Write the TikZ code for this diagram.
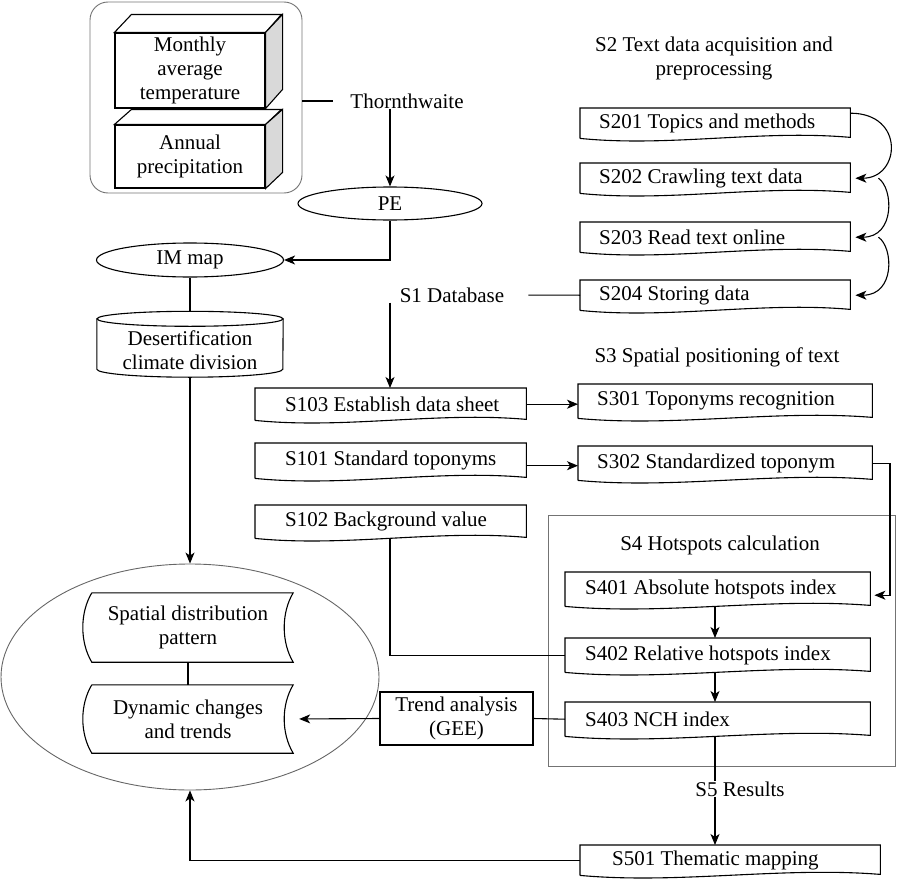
\documentclass[tikz,border=0pt]{standalone}
\usepackage{fontspec}
\setmainfont{Liberation Serif}
\usetikzlibrary{shapes.geometric,calc,arrows.meta}
\tikzset{
  ln/.style={line width=1.1pt},
  arr/.style={ln,-{Stealth[length=11pt,width=9pt,inset=3pt]}},
  plain/.style={inner sep=0pt},
  docshape/.style={rectangle,anchor=north west,inner sep=0pt},
  ell/.style={ellipse,draw,ln,inner sep=0pt},
  frame/.style={draw=black!55,line width=0.9pt},
}
\newcommand\docbox[7]{%
  \node[docshape,minimum width=#4pt,minimum height=#5pt] (#1) at (#2,#3) {};
  \node[plain,anchor=west] (#1t) at ($(#1.west)+(#6,0)$) {#7};
  \draw[ln] (#1.south west) -- (#1.north west) -- (#1.north east) -- ($(#1.south east)+(0,-1)$)
    .. controls ($(#1.south east)!0.33!(#1.south west)+(0,-9)$) and ($(#1.south east)!0.67!(#1.south west)+(0,9)$) .. (#1.south west);
}
\newcommand\tapebox[1]{%
  \draw[ln] ($(#1.north west)+(9,0)$) -- (#1.north east)
    .. controls +(-12,20) and +(-12,-20) .. (#1.south east)
    -- ($(#1.south west)+(9,0)$)
    .. controls +(-12,-20) and +(-12,20) .. ($(#1.north west)+(9,0)$);
}
\begin{document}
\begin{tikzpicture}[x=1pt,y=-1pt,every node/.style={font=\fontsize{21}{24}\selectfont}]
\useasboundingbox (0,0) rectangle (900,886);

% ---------- top-left group ----------
\node[frame,rounded corners=18pt,minimum width=212pt,minimum height=191pt,inner sep=0pt] (grp) at (196,97.5) {};
\node[draw,ln,fill=white,minimum width=150pt,minimum height=75pt,inner sep=0pt,align=center] (cub1) at (190,70.5) {Monthly\\average\\temperature};
\draw[ln,fill=white] (cub1.north west) -- ++(17,-18) -- ++(150,0) -- (cub1.north east) -- cycle;
\draw[ln,fill=black!15] (cub1.north east) -- ++(17,-18) -- ++(0,75) -- (cub1.south east) -- cycle;
\node[draw,ln,fill=white,minimum width=150pt,minimum height=63pt,inner sep=0pt,align=center] (cub2) at (190,156.5) {Annual\\precipitation};
\draw[ln,fill=white] (cub2.north west) -- ++(17,-15) -- ++(150,0) -- (cub2.north east) -- cycle;
\draw[ln,fill=black!15] (cub2.north east) -- ++(17,-15) -- ++(0,63) -- (cub2.south east) -- cycle;

\node[plain] (thw) at (407,101) {Thornthwaite};
\draw[ln,shorten >=17pt] (grp.east |- thw.west) -- (thw.west);
\node[ell,minimum width=184pt,minimum height=33pt] (pe) at (390,203.5) {PE};
\draw[arr] (thw.south -| pe.north) -- (pe.north);
\node[ell,minimum width=187pt,minimum height=34pt] (im) at (190,260) {IM map};
\draw[arr] (pe.south) |- (im.east);

% cylinder
\node[plain,minimum width=186pt,minimum height=50pt] (cyl) at (190,344) {};
\draw[ln] (cyl.north) ellipse [x radius=93, y radius=7.5];
\draw[ln] (cyl.north west) -- (cyl.south west) arc[start angle=180,end angle=0,x radius=93,y radius=8] -- (cyl.north east);
\node[plain,align=center] (cylt) at (190,350) {Desertification\\climate division};
\draw[ln] (im.south) -- ($(cyl.north)+(0,-7.5)$);

% big ellipse
\node[ellipse,draw=black!60,line width=0.9pt,minimum width=378pt,minimum height=226pt,inner sep=0pt] (big) at (190,677) {};
\draw[arr] ($(cyl.south)+(0,8)$) -- (big.north);
\node[plain,align=center,minimum width=210pt,minimum height=69pt] (spa) at (188,627.5) {Spatial distribution\\pattern};
\tapebox{spa}
\node[plain,align=center,minimum width=210pt,minimum height=68pt] (dyn) at (188,719) {Dynamic changes\\and trends};
\tapebox{dyn}
\draw[ln] (spa.south) -- (dyn.north);

\node[draw,ln,align=center,minimum width=153pt,minimum height=53pt,inner sep=0pt] (trend) at (456.5,718.5) {Trend analysis\\(GEE)};
\draw[arr,shorten >=6pt] (trend.west) -- (dyn.east);

% ---------- S2 ----------
\node[plain,align=center] (s2t) at (714,58.5) {S2 Text data acquisition and\\preprocessing};
\docbox{s201}{580}{108}{270}{30}{19}{S201 Topics and methods}
\docbox{s202}{580}{163}{270}{30}{19}{S202 Crawling text data}
\docbox{s203}{580}{222}{270}{30}{19}{S203 Read text online}
\docbox{s204}{580}{280}{270}{30}{19}{S204 Storing data}
\draw[arr,shorten >=5pt] ([yshift=10pt]s201.east) .. controls +(55,0) and +(50,0) .. (s202.east);
\draw[arr,shorten >=5pt] ($(s202.east)+(28,0)$) .. controls +(15,10) and +(45,0) .. (s203.east);
\draw[arr,shorten >=5pt] ($(s203.east)+(28,0)$) .. controls +(15,10) and +(45,0) .. (s204.east);

% ---------- S1 ----------
\node[plain] (s1t) at (452,295) {S1 Database};
\draw[ln,shorten <=24pt] (s1t.east) -- (s204.west);
\docbox{s103}{255}{388}{271}{32}{30}{S103 Establish data sheet}
\docbox{s101}{255}{443}{271}{35}{30}{S101 Standard toponyms}
\docbox{s102}{255}{505}{271}{33}{30}{S102 Background value}
\draw[arr] (s1t.south -| pe.south) -- (pe.south |- s103.north);

% ---------- S3 ----------
\node[plain] (s3t) at (717,357) {S3 Spatial positioning of text};
\docbox{s301}{578}{384}{294}{34}{19}{S301 Toponyms recognition}
\docbox{s302}{578}{446}{294}{34}{19}{S302 Standardized toponym}
\draw[arr] (s103.east) -- (s103.east -| s301.west);
\draw[arr] ([yshift=-5pt]s101.east) -- ([yshift=-5pt]s101.east -| s302.west);

% ---------- S4 ----------
\node[frame,minimum width=347pt,minimum height=251pt,anchor=north west,inner sep=0pt] (s4box) at (548,515) {};
\node[plain] (s4t) at (720,545) {S4 Hotspots calculation};
\docbox{s401}{565}{572}{305}{34}{20}{S401 Absolute hotspots index}
\docbox{s402}{565}{638}{305}{34}{20}{S402 Relative hotspots index}
\docbox{s403}{565}{702}{305}{34}{20}{S403 NCH index}
\coordinate (rx) at (890,0);
\coordinate (bx) at (715,0);
\draw[arr,shorten >=4pt] (s302.east) -- (s302.east -| rx) |- ([yshift=-6pt]s401.east);
\draw[arr] (s401.south -| bx) -- (bx |- s402.north);
\draw[arr] (s402.south -| bx) -- (bx |- s403.north);
\draw[ln] (s102.south -| pe.south) |- (s402.west);
\draw[ln] (s403.west) -- (trend.east);

% ---------- S5 ----------
\node[plain] (s5t) at (740,789) {S5 Results};
\docbox{s501}{580}{845}{300}{30}{32}{S501 Thematic mapping}
\draw[ln] (s403.south -| bx) -- (bx |- s5t.north);
\draw[arr] (s5t.south -| bx) -- (bx |- s501.north);
\draw[arr] (s501.west) -| (big.south);

\end{tikzpicture}
\end{document}
